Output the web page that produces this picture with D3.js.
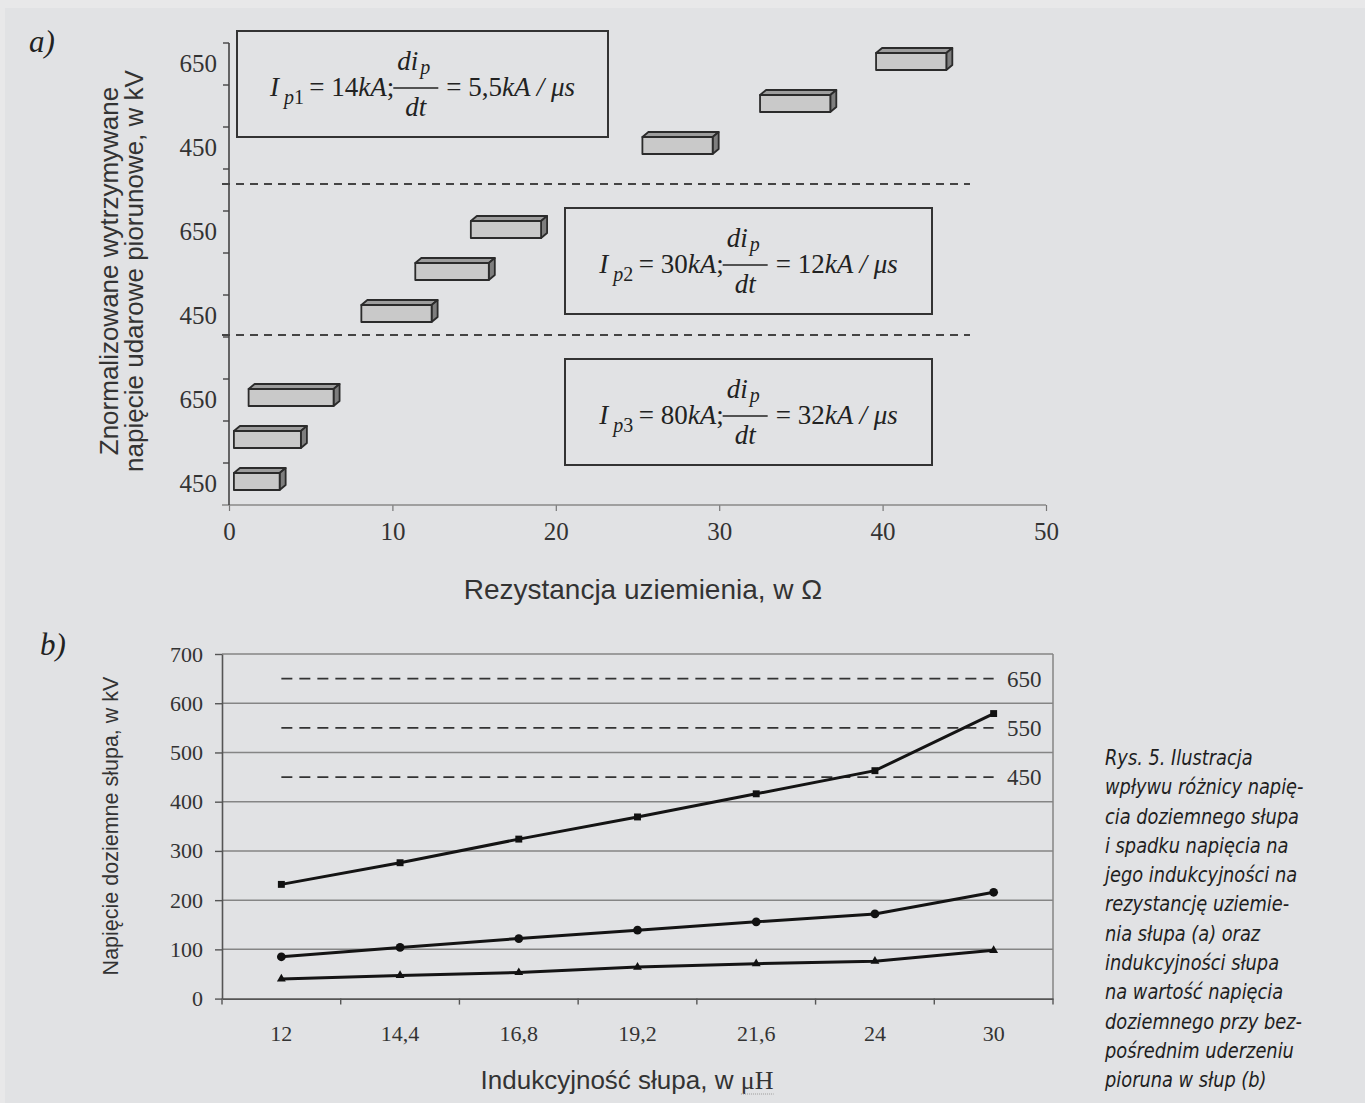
<!DOCTYPE html>
<html lang="pl">
<head>
<meta charset="UTF-8">
<title>Rys. 5</title>
<script src="https://cdn.jsdelivr.net/npm/d3@7"></script>
<style>
  body { margin: 0; background: #e8e8e9; }
  svg { display: block; }
  .serif { font-family: "Liberation Serif", "Times New Roman", serif; }
  .sans { font-family: "Liberation Sans", Arial, sans-serif; }
</style>
</head>
<body>
<svg width="1365" height="1103"></svg>
<script>
// ---- dane: wykres a) ----
var levels = ["650", "550", "450"];
// poczatek i koniec zakresu rezystancji (Ohm) dla kazdego poziomu, trzy przypadki pradu
var sec1Start = [39.6, 32.5, 25.3], sec1End = [43.9, 36.8, 29.6];
var sec2Start = [14.8, 11.4, 8.1],  sec2End = [19.1, 15.9, 12.4];
var sec3Start = [1.2, 0.3, 0.3],    sec3End = [6.4, 4.4, 3.1];
var currents = ["1", "2", "3"];
var currentKA = ["14", "30", "80"];
var rateKA = ["5,5", "12", "32"];
var xTicksA = [0, 10, 20, 30, 40, 50];

// ---- dane: wykres b) ----
var inductance = ["12", "14,4", "16,8", "19,2", "21,6", "24", "30"];
var seriesSquare = [232, 276, 324, 369, 416, 463, 579];
var seriesCircle = [85, 104, 122, 139, 156, 172, 216];
var seriesTriangle = [40, 47, 53, 64, 71, 76, 98];
var withstand = [650, 550, 450];
var yTicksB = [0, 100, 200, 300, 400, 500, 600, 700];

var caption = [
  "Rys. 5. Ilustracja",
  "wpływu różnicy napię-",
  "cia doziemnego słupa",
  "i spadku napięcia na",
  "jego indukcyjności na",
  "rezystancję uziemie-",
  "nia słupa (a) oraz",
  "indukcyjności słupa",
  "na wartość napięcia",
  "doziemnego przy bez-",
  "pośrednim uderzeniu",
  "pioruna w słup (b)"
];

var svg = d3.select("svg");
svg.append("rect").attr("x", 5).attr("y", 8).attr("width", 1360).attr("height", 1095).attr("fill", "#e1e2e4");

// ================= wykres a) =================
var xA = d3.scaleLinear().domain([0, 50]).range([229, 1046]);
var yA = d3.scaleLinear().domain([0, 11]).range([43, 505]); // 11 pozycji kategorii

var gA = svg.append("g");

gA.append("text").attr("class", "serif").attr("x", 29).attr("y", 52)
  .attr("font-size", 31).attr("font-style", "italic").attr("fill", "#222").text("a)");

// os x
var axA = gA.append("g").attr("transform", "translate(0,505)")
  .call(d3.axisBottom(xA).tickValues(xTicksA).tickSize(6).tickSizeOuter(0).tickPadding(11));
axA.select(".domain").remove();
axA.selectAll("line").attr("stroke", "#777").attr("stroke-width", 1.2);
axA.selectAll("text").attr("class", "serif").attr("font-size", 25).attr("fill", "#333");
gA.append("line").attr("x1", 222).attr("x2", xA(50)).attr("y1", 505).attr("y2", 505)
  .attr("stroke", "#888").attr("stroke-width", 1.3);

// os y
gA.append("line").attr("x1", 229).attr("x2", 229).attr("y1", yA(0)).attr("y2", yA(11))
  .attr("stroke", "#444").attr("stroke-width", 1.6);
gA.selectAll(".ytick").data(d3.range(0, 11)).enter().append("line")
  .attr("x1", 223).attr("x2", 229)
  .attr("y1", function(d) { return yA(d); }).attr("y2", function(d) { return yA(d); })
  .attr("stroke", "#444").attr("stroke-width", 1.4);

var yLabelSlots = [];
[0, 1, 2].forEach(function(s) { yLabelSlots.push({slot: s * 4, t: levels[0]}, {slot: s * 4 + 2, t: levels[2]}); });
gA.selectAll(".ylab").data(yLabelSlots).enter().append("text")
  .attr("class", "serif").attr("x", 217).attr("y", function(d) { return yA(d.slot + 0.5) - 1; })
  .attr("dy", "0.35em").attr("text-anchor", "end").attr("font-size", 25).attr("fill", "#333")
  .text(function(d) { return d.t; });

// linie przerywane miedzy przypadkami
var separators = [3.36, 6.95];
gA.selectAll(".sep").data(separators).enter().append("line")
  .attr("x1", 222).attr("x2", 970)
  .attr("y1", function(d) { return yA(d); }).attr("y2", function(d) { return yA(d); })
  .attr("stroke", "#444").attr("stroke-width", 2).attr("stroke-dasharray", "8,6");

// slupki 3D
var bars = [];
[[sec1Start, sec1End], [sec2Start, sec2End], [sec3Start, sec3End]].forEach(function(p, s) {
  p[0].forEach(function(v, i) { bars.push({slot: s * 4 + i, a: v, b: p[1][i]}); });
});
var dx = 6, dz = 5;
bars.forEach(function(d) {
  var x0 = xA(d.a), x1 = xA(d.b), yc = yA(d.slot + 0.5);
  var yt = yc - 11, yb = yc + 6;
  var g = gA.append("g").attr("stroke", "#2b2b2b").attr("stroke-width", 1.8).attr("stroke-linejoin", "round");
  g.append("polygon").attr("fill", "#9d9d9d")
    .attr("points", [[x0, yt], [x0 + dx, yt - dz], [x1 + dx, yt - dz], [x1, yt]].join(" "));
  g.append("polygon").attr("fill", "#7e7e7e")
    .attr("points", [[x1, yt], [x1 + dx, yt - dz], [x1 + dx, yb - dz], [x1, yb]].join(" "));
  g.append("rect").attr("fill", "#c9c9c9").attr("x", x0).attr("y", yt).attr("width", x1 - x0).attr("height", yb - yt);
});

// ramki ze wzorami
var boxes = [
  {x: 237, y: 31, w: 371, h: 106},
  {x: 565, y: 208, w: 367, h: 106},
  {x: 565, y: 359, w: 367, h: 106}
];
boxes.forEach(function(b, i) {
  gA.append("rect").attr("x", b.x).attr("y", b.y).attr("width", b.w).attr("height", b.h)
    .attr("fill", "none").attr("stroke", "#333").attr("stroke-width", 2);
  drawFormula(b.x + b.w / 2, b.y + b.h / 2 + 4, currents[i], currentKA[i], rateKA[i]);
});

function drawFormula(cx, barY, sub, amp, rate) {
  var fs = 27, fsub = 20;
  var g = gA.append("g").attr("class", "serif").attr("fill", "#222").attr("font-size", fs);
  var t1 = g.append("text").attr("y", barY + 8);
  t1.append("tspan").attr("font-style", "italic").text("I");
  t1.append("tspan").attr("font-size", fsub).attr("dy", 8).attr("dx", 5).attr("font-style", "italic").text("p");
  t1.append("tspan").attr("font-size", fsub).text(sub);
  t1.append("tspan").attr("dy", -8).text("\u2009= " + amp);
  t1.append("tspan").attr("font-style", "italic").text("kA");
  t1.append("tspan").text(";");
  var w1 = t1.node().getComputedTextLength() + 4;

  var num = g.append("text").attr("y", barY - 18);
  num.append("tspan").attr("font-style", "italic").text("di");
  num.append("tspan").attr("font-style", "italic").attr("font-size", fsub).attr("dy", 4).attr("dx", 2).text("p");
  var dt = g.append("text").attr("y", barY + 28).attr("font-style", "italic").text("dt");
  var fw = Math.max(num.node().getComputedTextLength(), dt.node().getComputedTextLength()) + 14;

  var t3 = g.append("text").attr("y", barY + 8);
  t3.append("tspan").text("= " + rate);
  t3.append("tspan").attr("font-style", "italic").text("kA / \u03bcs");
  var w3 = t3.node().getComputedTextLength();

  var total = w1 + fw + 8 + w3;
  var x = cx - total / 2;
  t1.attr("x", x);
  var fx = x + w1;
  num.attr("x", fx + 4);
  dt.attr("x", fx + fw / 2).attr("text-anchor", "middle");
  g.append("line").attr("x1", fx).attr("x2", fx + fw).attr("y1", barY).attr("y2", barY)
    .attr("stroke", "#222").attr("stroke-width", 1.3);
  t3.attr("x", fx + fw + 8);
}

// tytuly osi a)
gA.append("text").attr("class", "sans").attr("x", 643).attr("y", 599).attr("text-anchor", "middle")
  .attr("font-size", 28).attr("fill", "#333").text("Rezystancja uziemienia, w \u03a9");
var yt = gA.append("text").attr("class", "sans").attr("transform", "translate(118,271) rotate(-90)")
  .attr("text-anchor", "middle").attr("font-size", 26).attr("fill", "#333");
yt.append("tspan").attr("x", 0).attr("y", 0).text("Znormalizowane wytrzymywane");
yt.append("tspan").attr("x", 0).attr("y", 25).text("napięcie udarowe piorunowe, w kV");

// ================= wykres b) =================
var gB = svg.append("g");
var xB = d3.scaleBand().domain(inductance).range([222, 1053]);
var yB = d3.scaleLinear().domain([0, 700]).range([998.6, 654]);

gB.append("text").attr("class", "serif").attr("x", 40).attr("y", 655)
  .attr("font-size", 31).attr("font-style", "italic").attr("fill", "#222").text("b)");

// siatka
gB.selectAll(".grid").data(yTicksB.slice(1)).enter().append("line")
  .attr("x1", 222).attr("x2", 1053)
  .attr("y1", function(d) { return yB(d); }).attr("y2", function(d) { return yB(d); })
  .attr("stroke", "#858585").attr("stroke-width", 1.5);
gB.append("line").attr("x1", 1053).attr("x2", 1053).attr("y1", yB(700)).attr("y2", yB(0))
  .attr("stroke", "#858585").attr("stroke-width", 1.5);

var ayB = gB.append("g").attr("transform", "translate(222,0)")
  .call(d3.axisLeft(yB).tickValues(yTicksB).tickSize(7).tickSizeOuter(0).tickPadding(12));
ayB.select(".domain").attr("stroke", "#555").attr("stroke-width", 1.6);
ayB.selectAll("line").attr("stroke", "#555").attr("stroke-width", 1.4);
ayB.selectAll("text").attr("class", "serif").attr("font-size", 22).attr("fill", "#333");

var axB = gB.append("g").attr("transform", "translate(0," + yB(0) + ")")
  .call(d3.axisBottom(xB).tickSize(0).tickPadding(27));
axB.select(".domain").attr("stroke", "#555").attr("stroke-width", 1.6);
axB.selectAll("text").attr("class", "serif").attr("font-size", 22).attr("fill", "#333");
var bounds = inductance.map(function(c) { return xB(c); }).concat([xB.range()[1]]);
gB.selectAll(".xtick").data(bounds).enter().append("line")
  .attr("x1", function(d) { return d; }).attr("x2", function(d) { return d; })
  .attr("y1", yB(0)).attr("y2", yB(0) + 6).attr("stroke", "#555").attr("stroke-width", 1.4);

// poziomy wytrzymalosci
var cx = function(c) { return xB(c) + xB.bandwidth() / 2; };
gB.selectAll(".lvl").data(withstand).enter().append("line")
  .attr("x1", cx(inductance[0])).attr("x2", cx(inductance[inductance.length - 1]))
  .attr("y1", function(d) { return yB(d); }).attr("y2", function(d) { return yB(d); })
  .attr("stroke", "#333").attr("stroke-width", 1.8).attr("stroke-dasharray", "11,7");
gB.selectAll(".lvlt").data(withstand).enter().append("text")
  .attr("class", "serif").attr("x", 1007).attr("y", function(d) { return yB(d); }).attr("dy", "0.35em")
  .attr("font-size", 23).attr("fill", "#333").text(function(d) { return d; });

// serie
var line = d3.line().x(function(d, i) { return cx(inductance[i]); }).y(function(d) { return yB(d); });
[[seriesSquare, d3.symbolSquare, 48], [seriesCircle, d3.symbolCircle, 60], [seriesTriangle, d3.symbolTriangle, 34]]
  .forEach(function(s) {
    gB.append("path").attr("d", line(s[0])).attr("fill", "none").attr("stroke", "#141414").attr("stroke-width", 3);
    gB.selectAll(null).data(s[0]).enter().append("path")
      .attr("d", d3.symbol().type(s[1]).size(s[2]))
      .attr("transform", function(d, i) { return "translate(" + cx(inductance[i]) + "," + yB(d) + ")"; })
      .attr("fill", "#111");
  });

// tytuly osi b)
var xt = gB.append("text").attr("x", 627).attr("y", 1089).attr("text-anchor", "middle").attr("fill", "#333").attr("font-size", 26);
xt.append("tspan").attr("class", "sans").text("Indukcyjność słupa, w ");
var mu = xt.append("tspan").attr("class", "serif").attr("font-size", 26).text("\u03bcH");
var xb = xt.node().getBBox(), muW = mu.node().getComputedTextLength();
gB.append("line").attr("x1", xb.x + xb.width - muW).attr("x2", xb.x + xb.width).attr("y1", 1094).attr("y2", 1094)
  .attr("stroke", "#9a9a9a").attr("stroke-width", 1).attr("stroke-dasharray", "1,1");
gB.append("text").attr("class", "sans").attr("transform", "translate(118,826) rotate(-90)")
  .attr("text-anchor", "middle").attr("font-size", 21.5).attr("fill", "#333")
  .text("Napięcie doziemne słupa, w kV");

// podpis
svg.append("g").attr("transform", "translate(1105,0) scale(0.9,1)")
  .attr("font-family", "'Liberation Sans Narrow', 'DejaVu Sans Condensed', sans-serif")
  .attr("font-style", "italic").attr("font-size", 22).attr("fill", "#1e1e1e")
  .selectAll("text").data(caption).enter().append("text")
  .attr("x", 0).attr("y", function(d, i) { return 765 + i * 29.3; })
  .text(function(d) { return d; });
</script>
</body>
</html>
